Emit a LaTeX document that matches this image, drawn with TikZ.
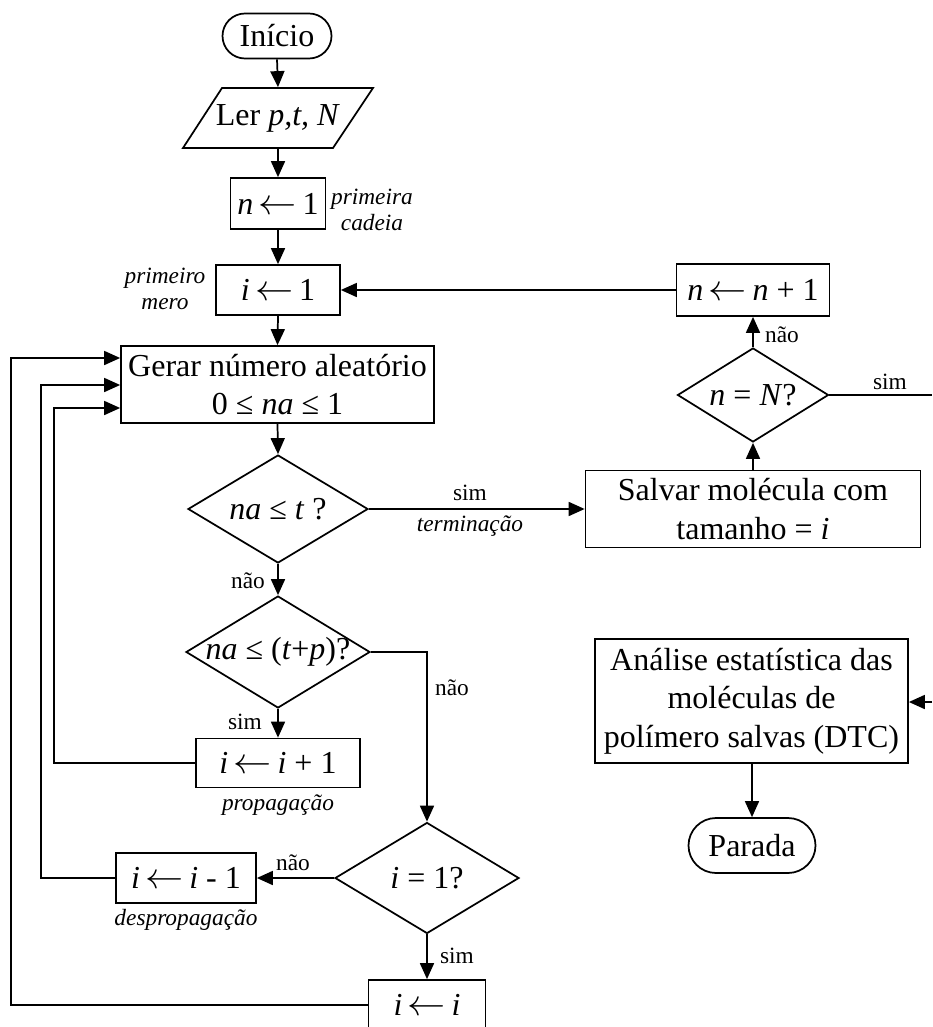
\documentclass[tikz,border=0pt]{standalone}
\usepackage{fontspec}
\setmainfont{Liberation Serif}
\usetikzlibrary{shapes.geometric,shapes.misc,arrows.meta}
\newcommand{\bigfnt}{\fontsize{24}{29}\selectfont}
\newcommand{\smfnt}{\fontsize{17.5}{20}\selectfont}
\newcommand{\getsarrow}{\ensuremath{\,\scalebox{1.15}[1.1]{$\leftarrow$}\,}}
\begin{document}
\begin{tikzpicture}[x=0.75pt,y=-0.75pt,line width=1.3pt,
  box/.style={draw,rectangle,inner sep=0pt,align=center,font=\bigfnt},
  term/.style={draw,rounded rectangle,inner sep=0pt,align=center,font=\bigfnt},
  dia/.style={draw,diamond,inner sep=0pt},
  dtext/.style={font=\bigfnt,inner sep=0pt},
  lbl/.style={font=\smfnt,inner sep=0pt},
  itl/.style={font=\smfnt\itshape,inner sep=0pt,align=center},
  arr/.style={-{Triangle[length=12pt,width=10.5pt]}}]
\useasboundingbox (0,0) rectangle (932,1027);
\clip (0,0) rectangle (932,1027);

% nodes
\node[term,minimum width=81.75pt,minimum height=33.75pt] (inicio) at (277,36) {Início};
\node[inner sep=0pt,minimum width=112pt,minimum height=45pt,font=\bigfnt] (ler) at (278,118) {Ler \textit{p,t, N}};
\draw (222,88) -- (373,88) -- (333,148) -- (183,148) -- cycle;
\node[box,minimum width=71.25pt,minimum height=38.25pt] (n1) at (278,203.5) {\textit{n}\getsarrow 1};
\node[box,minimum width=93pt,minimum height=37.5pt] (i1) at (278,290) {\textit{i}\getsarrow 1};
\node[box,minimum width=234.75pt,minimum height=57.75pt] (gerar) at (277.5,384.5) {Gerar número aleatório\\0 ≤ \textit{na} ≤ 1};
\node[dia,minimum width=135pt,minimum height=81pt,label={[dtext]center:\textit{na} ≤ \textit{t} ?}] (d1) at (278,509) {};
\node[dia,minimum width=138pt,minimum height=84pt,label={[dtext]center:\textit{na} ≤ (\textit{t}+\textit{p})?}] (d2) at (278,652) {};
\node[box,minimum width=123pt,minimum height=36.75pt] (ip1) at (278,763) {\textit{i}\getsarrow\textit{i} + 1};
\node[dia,minimum width=138pt,minimum height=83.25pt,label={[dtext]center:\textit{i} = 1?}] (d3) at (427,878) {};
\node[box,minimum width=105pt,minimum height=37.5pt] (im1) at (186,878) {\textit{i}\getsarrow\textit{i} - 1};
\node[box,minimum width=87.75pt,minimum height=37.5pt] (ii) at (427,1005) {\textit{i}\getsarrow\textit{i}};
\node[box,minimum width=251.25pt,minimum height=57.75pt] (salvar) at (753,509) {Salvar molécula com\\tamanho = \textit{i}};
\node[dia,minimum width=113.25pt,minimum height=70.5pt,label={[dtext]center:\textit{n} = \textit{N}?}] (dN) at (753,395) {};
\node[box,minimum width=114.75pt,minimum height=39pt] (nn1) at (753,290) {\textit{n}\getsarrow\textit{n} + 1};
\node[box,minimum width=234.75pt,minimum height=93pt] (analise) at (751.5,701) {Análise estatística das\\moléculas de\\polímero salvas (DTC)};
\node[term,minimum width=95.25pt,minimum height=41.25pt] (parada) at (752,845.5) {Parada};

% helper coordinates
\coordinate (L1) at (11,358);
\coordinate (L2) at (41,385);
\coordinate (L3) at (54,408);
\coordinate (eN) at (932,395);
\coordinate (eA) at (932,702);

% connectors
\draw[arr] (inicio.south) -- (ler.north);
\draw[arr] (ler.south) -- (n1.north);
\draw[arr] (n1.south) -- (i1.north);
\draw[arr] (nn1.west) -- (i1.east);
\draw[arr] (i1.south) -- (gerar.north);
\draw[arr] (gerar.south) -- (d1.north);
\draw[arr] (d1.south) -- (d2.north);
\draw[arr] (d1.east) -- (d1.east -| salvar.west);
\draw[arr] (d2.south) -- (ip1.north);
\draw[arr] (d2.east) -| (d3.north);
\draw[arr] (d3.west) -- (d3.west -| im1.east);
\draw[arr] (d3.south) -- (ii.north);
\draw[arr] (ip1.west) -| (L3) -- (gerar.west |- L3);
\draw[arr] (im1.west) -| (L2) -- (gerar.west |- L2);
\draw[arr] (ii.west) -| (L1) -- (gerar.west |- L1);
\draw[arr] (salvar.north -| dN.south) -- (dN.south);
\draw[arr] (dN.north) -- (nn1.south);
\draw (dN.east) -- (eN);
\draw[arr] (eA) -- (analise.east |- eA);
\draw[arr] (analise.south -| parada.north) -- (parada.north);

% labels
\node[lbl] (l1) at (248,581) {não};
\node[lbl] (l2) at (470,493) {sim};
\node[itl] (l3) at (470,526) {terminação};
\node[lbl] (l4) at (245,722) {sim};
\node[lbl] (l5) at (452,688) {não};
\node[lbl] (l6) at (293,863) {não};
\node[lbl] (l7) at (457,956) {sim};
\node[lbl] (l8) at (782,335) {não};
\node[lbl] (l9) at (890,382) {sim};
\node[itl] (l10) at (372,210) {primeira\\cadeia};
\node[itl] (l11) at (165,289) {primeiro\\mero};
\node[itl] (l12) at (278,805) {propagação};
\node[itl] (l13) at (186,920) {despropagação};
\end{tikzpicture}
\end{document}
